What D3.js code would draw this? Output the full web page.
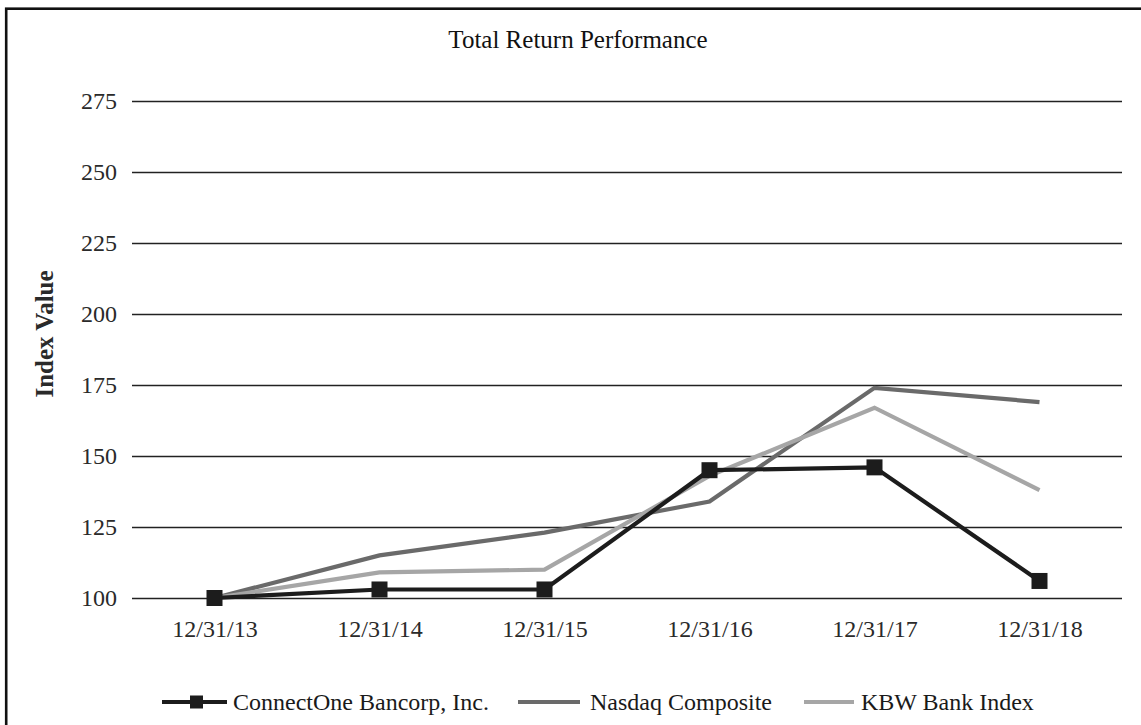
<!DOCTYPE html>
<html>
<head>
<meta charset="utf-8">
<script src="https://cdn.jsdelivr.net/npm/d3@7"></script>
<style>
  body { margin: 0; background: #fff; }
  svg { display: block; font-family: "Liberation Serif", "Times New Roman", serif; }
</style>
</head>
<body>
<div id="chart"></div>
<script>
// data
var dates = ["12/31/13", "12/31/14", "12/31/15", "12/31/16", "12/31/17", "12/31/18"];
var connectOne = [100, 103, 103, 145, 146, 106];
var nasdaq = [100, 115, 123, 134, 174, 169];
var kbw = [100, 109, 110, 143, 167, 138];
var yTicks = [100, 125, 150, 175, 200, 225, 250, 275];
var seriesNames = ["ConnectOne Bancorp, Inc.", "Nasdaq Composite", "KBW Bank Index"];

var W = 1141, H = 725;
var margin = { top: 101, right: 19, bottom: 127, left: 132 },
  width = W - margin.left - margin.right,
  height = H - margin.top - margin.bottom;

var svg = d3.select("#chart").append("svg")
  .attr("width", W).attr("height", H);

// outer frame (runs off the right and bottom edges)
svg.append("rect")
  .attr("x", 6.2).attr("y", 8.7)
  .attr("width", W + 20).attr("height", H + 20)
  .attr("fill", "none").attr("stroke", "#111").attr("stroke-width", 2.6);

var g = svg.append("g").attr("transform", `translate(${margin.left},${margin.top})`);

/* SCALES */
var x = d3.scalePoint().domain(dates).range([0, width]).padding(0.5);
var y = d3.scaleLinear().domain([100, 275]).range([height, 0]);

/* GRID + Y AXIS */
var yAxis = g.append("g").attr("class", "y_axis")
  .call(d3.axisLeft(y).tickValues(yTicks).tickSize(-width).tickPadding(15).tickFormat(d3.format("d")));
yAxis.select(".domain").remove();
yAxis.selectAll(".tick line").attr("stroke", "#222").attr("stroke-width", 1.6);
yAxis.selectAll(".tick text")
  .attr("font-size", 24).attr("fill", "#2a2a2a")
  .attr("font-family", "Liberation Serif");

/* X AXIS */
var xAxis = g.append("g").attr("class", "x_axis")
  .attr("transform", `translate(0,${height})`)
  .call(d3.axisBottom(x).tickSize(0).tickPadding(22));
xAxis.select(".domain").remove();
xAxis.selectAll(".tick text")
  .attr("font-size", 24).attr("fill", "#2a2a2a")
  .attr("font-family", "Liberation Serif");

/* TITLE + Y LABEL */
svg.append("text")
  .attr("x", 578).attr("y", 48)
  .attr("text-anchor", "middle")
  .attr("font-size", 25).attr("fill", "#111")
  .text("Total Return Performance");

svg.append("text")
  .attr("transform", "translate(53,334) rotate(-90)")
  .attr("text-anchor", "middle")
  .attr("font-size", 25).attr("font-weight", "bold").attr("fill", "#2a2a2a")
  .text("Index Value");

/* LINES */
var series = [
  { name: seriesNames[1], values: nasdaq, color: "#6a6a6a" },
  { name: seriesNames[2], values: kbw, color: "#a6a6a6" },
  { name: seriesNames[0], values: connectOne, color: "#1c1c1c" }
];

var line = d3.line()
  .x((d, i) => x(dates[i]))
  .y((d) => y(d));

g.append("g").attr("class", "lines")
  .selectAll("path")
  .data(series)
  .join("path")
  .attr("d", (d) => line(d.values))
  .attr("fill", "none")
  .attr("stroke", (d) => d.color)
  .attr("stroke-width", 4.2)
  .attr("stroke-linejoin", "miter");

var sq = 16;
g.append("g").attr("class", "markers")
  .selectAll("rect")
  .data(connectOne)
  .join("rect")
  .attr("x", (d, i) => x(dates[i]) - sq / 2)
  .attr("y", (d) => y(d) - sq / 2)
  .attr("width", sq).attr("height", sq)
  .attr("fill", "#1c1c1c");

/* LEGEND */
var legendItems = [
  { name: seriesNames[0], color: "#1c1c1c", marker: true, x0: 162, len: 65, gap: 6 },
  { name: seriesNames[1], color: "#6a6a6a", marker: false, x0: 518, len: 62, gap: 10 },
  { name: seriesNames[2], color: "#a6a6a6", marker: false, x0: 804, len: 50, gap: 7 }
];
var ly = 702;
var legend = svg.append("g").attr("class", "legend");
var items = legend.selectAll("g").data(legendItems).join("g");
items.append("line")
  .attr("x1", (d) => d.x0).attr("x2", (d) => d.x0 + d.len)
  .attr("y1", ly).attr("y2", ly)
  .attr("stroke", (d) => d.color).attr("stroke-width", 4.2);
items.filter((d) => d.marker).append("rect")
  .attr("x", (d) => d.x0 + d.len / 2 + 2 - 6.5)
  .attr("y", ly - 6.5)
  .attr("width", 13).attr("height", 13)
  .attr("fill", (d) => d.color);
items.append("text")
  .attr("x", (d) => d.x0 + d.len + d.gap)
  .attr("y", ly + 8)
  .attr("font-size", 24).attr("fill", "#1a1a1a")
  .text((d) => d.name);
</script>
</body>
</html>
